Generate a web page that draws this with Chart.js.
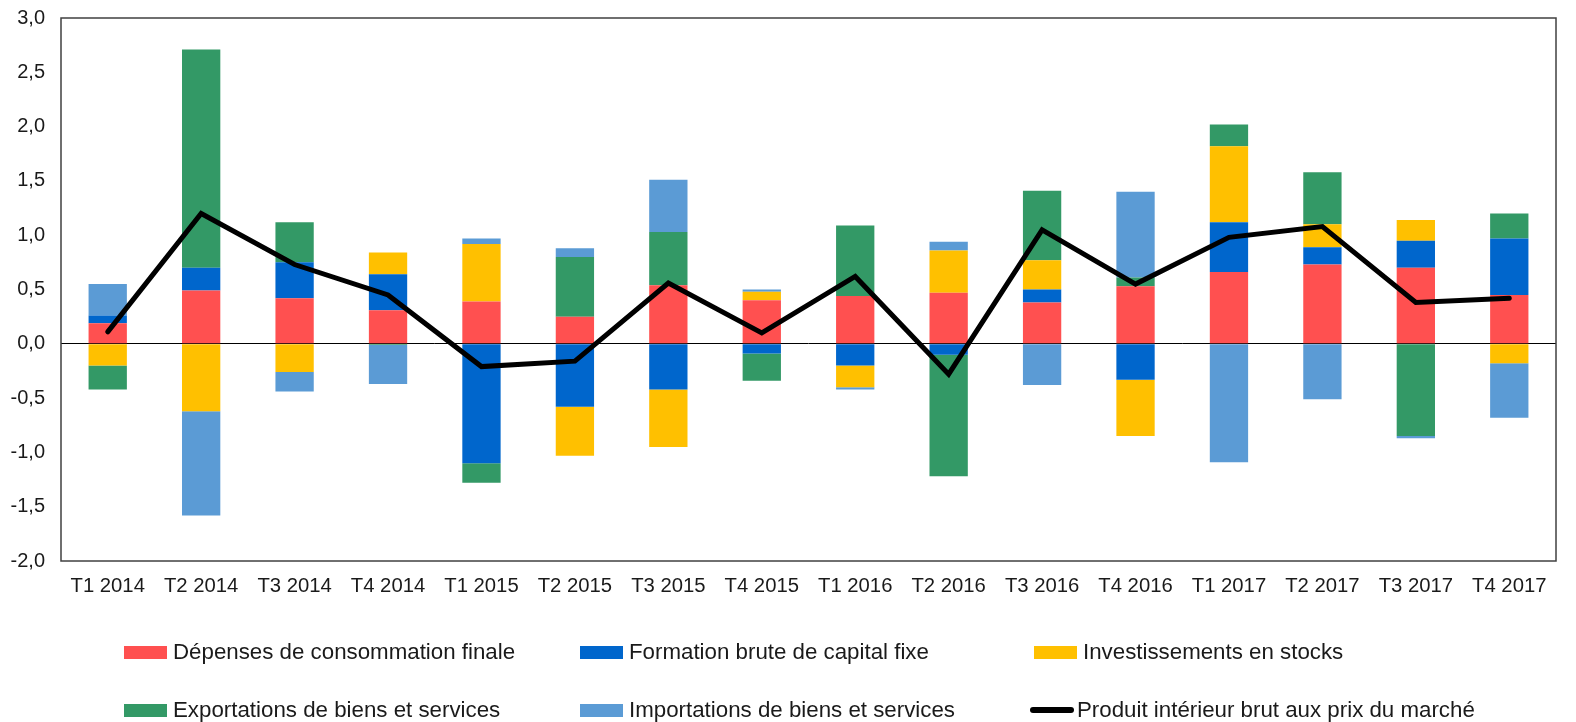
<!DOCTYPE html>
<html>
<head>
<meta charset="utf-8">
<script src="https://cdn.jsdelivr.net/npm/chart.js@4"></script>
<style>
  body { margin: 0; background: #fff; }
  #wrap { position: relative; width: 1576px; height: 722px; }
  #legend { position: absolute; left: 0; top: 0; width: 1576px; height: 722px; pointer-events: none;
            font-family: "Liberation Sans", Arial, sans-serif; font-size: 22.3px; color: #1a1a1a; }
  .item { position: absolute; display: flex; align-items: center; height: 30px; white-space: nowrap; }
  .box { display: inline-block; width: 43px; height: 13px; margin-right: 6px; }
  .line { display: inline-block; width: 44px; height: 6px; border-radius: 3px; margin-right: 3px; }
</style>
</head>
<body>
<div id="wrap">
  <canvas id="chart" width="1576" height="722"></canvas>
  <div id="legend"></div>
</div>
<script>
// trimestres
const labels = ["T1 2014", "T2 2014", "T3 2014", "T4 2014", "T1 2015", "T2 2015", "T3 2015", "T4 2015",
                "T1 2016", "T2 2016", "T3 2016", "T4 2016", "T1 2017", "T2 2017", "T3 2017", "T4 2017"];

// contributions (points de %)
const depenses = [0.19, 0.49, 0.42, 0.31, 0.39, 0.25, 0.54, 0.40, 0.44, 0.47, 0.38, 0.53, 0.66, 0.73, 0.70, 0.45];
const fbcf = [0.07, 0.21, 0.33, 0.33, -1.10, -0.58, -0.42, -0.09, -0.20, -0.10, 0.12, -0.33, 0.46, 0.16, 0.25, 0.52];
const stocks = [-0.20, -0.62, -0.26, 0.20, 0.53, -0.45, -0.53, 0.08, -0.20, 0.39, 0.27, -0.52, 0.70, 0.21, 0.19, -0.18];
const exportations = [-0.22, 2.01, 0.37, -0.01, -0.18, 0.55, 0.49, -0.25, 0.65, -1.12, 0.64, 0.08, 0.20, 0.48, -0.85, 0.23];
const importations = [0.29, -0.96, -0.18, -0.36, 0.05, 0.08, 0.48, 0.02, -0.02, 0.08, -0.38, 0.79, -1.09, -0.51, -0.02, -0.50];
const pib = [0.11, 1.20, 0.73, 0.45, -0.21, -0.16, 0.56, 0.10, 0.62, -0.28, 1.05, 0.55, 0.98, 1.08, 0.38, 0.42];

const yTicks = [-2.0, -1.5, -1.0, -0.5, 0.0, 0.5, 1.0, 1.5, 2.0, 2.5, 3.0];

const font = "'Liberation Sans', Arial, sans-serif";

function bar(label, data, color) {
    return {
        type: "bar",
        label,
        data,
        backgroundColor: color,
        stack: "s",
        order: 1,
        barPercentage: 0.41,
        categoryPercentage: 1
    };
}

// cadre autour de la zone du graphique
const frame = {
    id: "frame",
    beforeDatasetsDraw(chart) {
        const a = chart.chartArea;
        const ctx = chart.ctx;
        ctx.save();
        ctx.strokeStyle = "#404040";
        ctx.lineWidth = 1.5;
        ctx.strokeRect(a.left, a.top, a.right - a.left, a.bottom - a.top);
        ctx.restore();
    }
};

const ctx = document.getElementById("chart").getContext("2d");
const chart = new Chart(ctx, {
    data: {
        labels,
        datasets: [
            bar("Dépenses de consommation finale", depenses, "#FF5050"),
            bar("Formation brute de capital fixe", fbcf, "#0066CC"),
            bar("Investissements en stocks", stocks, "#FFC000"),
            bar("Exportations de biens et services", exportations, "#339966"),
            bar("Importations de biens et services", importations, "#5B9BD5"),
            {
                type: "line",
                label: "Produit intérieur brut aux prix du marché",
                data: pib,
                borderColor: "#000",
                backgroundColor: "#000",
                borderWidth: 5,
                borderCapStyle: "round",
                pointRadius: 0,
                tension: 0,
                order: 0
            }
        ]
    },
    options: {
        responsive: false,
        animation: false,
        layout: { padding: { top: 18, right: 20, bottom: 121, left: 0 } },
        plugins: {
            legend: { display: false },
            tooltip: { enabled: false }
        },
        scales: {
            x: {
                stacked: true,
                grid: { display: false, drawTicks: false },
                border: { display: false },
                ticks: { color: "#1a1a1a", font: { family: font, size: 20.3 }, padding: 13 },
                afterFit(scale) {
                    scale.height = 40;
                    scale.paddingLeft = 0;
                    scale.paddingRight = 0;
                }
            },
            y: {
                stacked: true,
                min: -2,
                max: 3,
                afterBuildTicks(scale) { scale.ticks = yTicks.map(v => ({ value: v })); },
                grid: {
                    drawTicks: false,
                    color: c => (c.tick && c.tick.value === 0 ? "#000" : "rgba(0,0,0,0)"),
                    lineWidth: 1
                },
                border: { display: false },
                ticks: {
                    color: "#1a1a1a",
                    font: { family: font, size: 20 },
                    padding: 16,
                    callback: v => v.toFixed(1).replace(".", ",")
                },
                afterFit(scale) {
                    scale.width = 61;
                    scale.paddingTop = 0;
                    scale.paddingBottom = 0;
                }
            }
        }
    },
    plugins: [frame]
});

// légende sur trois colonnes
const legendPos = [[124, 637], [580, 637], [1034, 637], [124, 695], [580, 695], [1030, 695]];
const legend = document.getElementById("legend");
chart.data.datasets.forEach((ds, i) => {
    const item = document.createElement("div");
    item.className = "item";
    item.style.left = legendPos[i][0] + "px";
    item.style.top = legendPos[i][1] + "px";
    const mark = document.createElement("span");
    mark.className = ds.type === "line" ? "line" : "box";
    mark.style.background = ds.type === "line" ? ds.borderColor : ds.backgroundColor;
    const text = document.createElement("span");
    text.textContent = ds.label;
    item.appendChild(mark);
    item.appendChild(text);
    legend.appendChild(item);
});
</script>
</body>
</html>
